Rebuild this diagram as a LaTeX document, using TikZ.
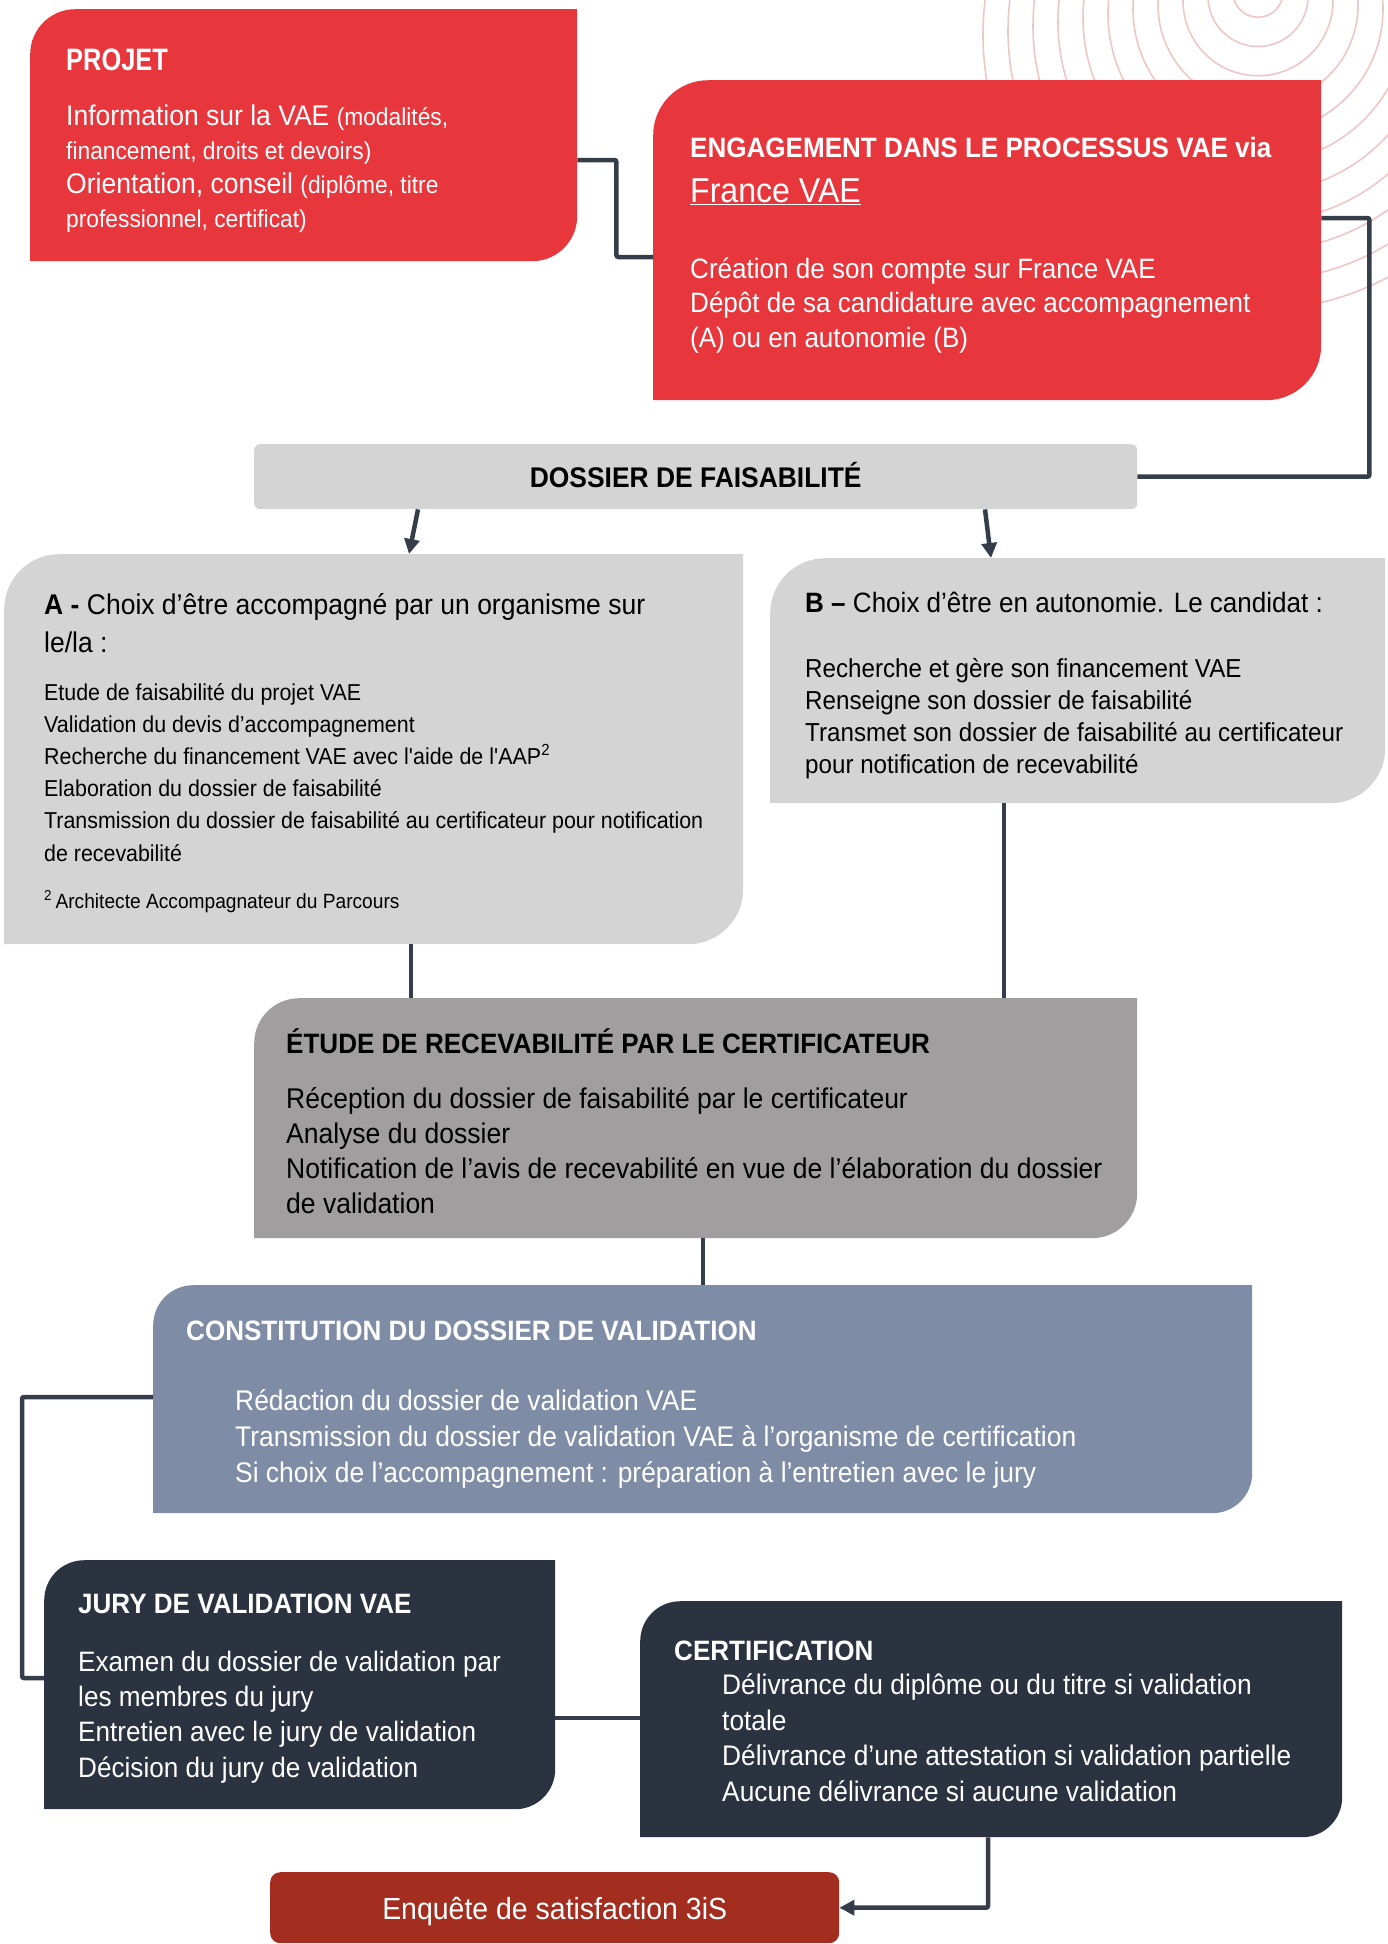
\documentclass[tikz,border=0pt]{standalone}
\usepackage{fontspec}
\setmainfont{Liberation Sans}[FakeStretch=0.93]
\newfontfamily\headfont{Liberation Sans}[FakeStretch=0.93]
\newfontfamily\narrowfont{Liberation Sans}[FakeStretch=0.82]
\usetikzlibrary{arrows.meta,positioning}
\definecolor{vaered}{HTML}{E8363D}
\definecolor{lightgrey}{HTML}{D4D4D4}
\definecolor{midgrey}{HTML}{A19E9F}
\definecolor{slate}{HTML}{7F8CA5}
\definecolor{navy}{HTML}{2B3240}
\definecolor{brick}{HTML}{A32D1F}
\definecolor{linkcol}{HTML}{353D4B}
\definecolor{ringcol}{HTML}{EFC6C6}
\newcommand\sm[1]{{\fontsize{24.5}{34}\selectfont #1}}

\begin{document}
\begin{tikzpicture}[x=1pt,y=1pt,>={Triangle[length=15pt,width=15pt]},
	link/.style={draw=linkcol,line width=4.5pt,rounded corners=2pt},
	ring/.style={draw=ringcol,line width=1.6pt},
	leaf/.style 2 args={rectangle,inner sep=0pt,anchor=north west,
		path picture={\fill[#1] (path picture bounding box.south west)
			-- ([yshift=-#2]path picture bounding box.north west)
			arc[start angle=180,end angle=90,radius=#2]
			-- (path picture bounding box.north east)
			-- ([yshift=#2]path picture bounding box.south east)
			arc[start angle=0,end angle=-90,radius=#2] -- cycle;}},
	txt/.style={anchor=base west,align=left,inner sep=0pt},
	head/.style={txt,font=\headfont\bfseries\fontsize{28}{34}\selectfont}]
	\useasboundingbox (0,0) rectangle (1388,-1944);
	\begin{scope}
		\clip (0,0) rectangle (1388,-1944);
		\foreach \r in {25,50,...,275}
			\draw[ring] (1258,{12-0.17*\r}) circle[radius=\r];
	\end{scope}
	
	\node[leaf={vaered}{45pt},minimum width=547pt,minimum height=252pt] (projet) at (30,-9) {};
	\node[leaf={vaered}{55pt},minimum width=668pt,minimum height=320pt] (engage) at (653,-80) {};
	\node[rectangle,rounded corners=6pt,fill=lightgrey,anchor=north west,minimum width=883pt,minimum height=65pt] (dossier) at (254,-444) {};
	\node[leaf={lightgrey}{55pt},minimum width=739pt,minimum height=390pt] (choixA) at (4,-554) {};
	\node[leaf={lightgrey}{55pt},minimum width=615pt,minimum height=245pt] (choixB) at (770,-558) {};
	\node[leaf={midgrey}{45pt},minimum width=883pt,minimum height=240pt] (etude) at (254,-998) {};
	\node[leaf={slate}{40pt},minimum width=1099pt,minimum height=228pt] (constit) at (153,-1285) {};
	\node[leaf={navy}{40pt},minimum width=511pt,minimum height=249pt] (jury) at (44,-1560) {};
	\node[leaf={navy}{40pt},minimum width=702pt,minimum height=236pt] (certif) at (640,-1601) {};
	\node[rectangle,rounded corners=10pt,fill=brick,anchor=north west,minimum width=569pt,minimum height=71pt] (enquete) at (270,-1872) {};
	
	\node[head,text=white,font=\narrowfont\bfseries\fontsize{31}{36}\selectfont] (projet-title) at ([shift={(36,-61)}]projet.north west) {PROJET};
	\node[txt,text=white,font=\fontsize{28.5}{34}\selectfont] (projet-text) at ([shift={(36,-218)}]projet.north west)
		{Information sur la VAE \sm{(modalités,}\\\sm{financement, droits et devoirs)}\\Orientation, conseil \sm{(diplôme, titre}\\\sm{professionnel, certificat)}};
	
	\node[head,text=white] (engage-title) at ([shift={(37,-77)}]engage.north west) {ENGAGEMENT DANS LE PROCESSUS VAE via};
	\node[txt,text=white,font=\fontsize{34.5}{40}\selectfont] (engage-link) at ([shift={(37,-122)}]engage.north west) {\underline{France VAE}};
	\node[txt,text=white,font=\fontsize{28}{34.5}\selectfont] (engage-text) at ([shift={(37,-267)}]engage.north west)
		{Création de son compte sur France VAE\\Dépôt de sa candidature avec accompagnement\\(A) ou en autonomie (B)};
	
	\node[head,anchor=base,font=\headfont\bfseries\fontsize{28.4}{34}\selectfont] (dossier-title) at ([yshift=-11pt]dossier.center) {DOSSIER DE FAISABILITÉ};
	
	\node[txt,font=\fontsize{28.5}{38}\selectfont] (choixA-title) at ([shift={(40,-98)}]choixA.north west)
		{\textbf{A -} Choix d’être accompagné par un organisme sur\\le/la :};
	\node[txt,font=\fontsize{23}{32.2}\selectfont] (choixA-text) at ([shift={(40,-307)}]choixA.north west)
		{Etude de faisabilité du projet VAE\\Validation du devis d’accompagnement\\Recherche du financement VAE avec l\textquotesingle aide de l\textquotesingle AAP\textsuperscript{2}\\Elaboration du dossier de faisabilité\\Transmission du dossier de faisabilité au certificateur pour notification\\de recevabilité};
	\node[txt,font=\fontsize{20.6}{24}\selectfont] (choixA-note) at ([shift={(40,-354)}]choixA.north west)
		{\textsuperscript{2}\,Architecte Accompagnateur du Parcours};
	
	\node[txt,font=\fontsize{28}{32}\selectfont] (choixB-title) at ([shift={(35,-54)}]choixB.north west)
		{\textbf{B –} Choix d’être en autonomie. Le candidat :};
	\node[txt,font=\fontsize{26}{32}\selectfont] (choixB-text) at ([shift={(35,-215)}]choixB.north west)
		{Recherche et gère son financement VAE\\Renseigne son dossier de faisabilité\\Transmet son dossier de faisabilité au certificateur\\pour notification de recevabilité};
	
	\node[head] (etude-title) at ([shift={(32,-55)}]etude.north west) {ÉTUDE DE RECEVABILITÉ PAR LE CERTIFICATEUR};
	\node[txt,font=\fontsize{28.5}{35}\selectfont] (etude-text) at ([shift={(32,-215)}]etude.north west)
		{Réception du dossier de faisabilité par le certificateur\\Analyse du dossier\\Notification de l’avis de recevabilité en vue de l’élaboration du dossier\\de validation};
	
	\node[head,text=white] (constit-title) at ([shift={(33,-55)}]constit.north west) {CONSTITUTION DU DOSSIER DE VALIDATION};
	\node[txt,text=white,font=\fontsize{28.4}{36}\selectfont] (constit-text) at ([shift={(82,-197)}]constit.north west)
		{Rédaction du dossier de validation VAE\\Transmission du dossier de validation VAE à l’organisme de certification\\Si choix de l’accompagnement : préparation à l’entretien avec le jury};
	
	\node[head,text=white] (jury-title) at ([shift={(34,-53)}]jury.north west) {JURY DE VALIDATION VAE};
	\node[txt,text=white,font=\fontsize{28.1}{35.3}\selectfont] (jury-text) at ([shift={(34,-217)}]jury.north west)
		{Examen du dossier de validation par\\les membres du jury\\Entretien avec le jury de validation\\Décision du jury de validation};
	
	\node[head,text=white] (certif-title) at ([shift={(34,-59)}]certif.north west) {CERTIFICATION};
	\node[txt,text=white,font=\fontsize{28.3}{35.5}\selectfont] (certif-text) at ([shift={(82,-200)}]certif.north west)
		{Délivrance du diplôme ou du titre si validation\\totale\\Délivrance d’une attestation si validation partielle\\Aucune délivrance si aucune validation};
	
	\node[txt,anchor=base,text=white,font=\fontsize{30.6}{36}\selectfont] (enquete-text) at ([yshift=-12pt]enquete.center) {Enquête de satisfaction 3iS};
	
	\draw[link] ([yshift=-151pt]projet.north east) -- ++(39,0) |- ([yshift=-177pt]engage.north west);
	\draw[link] ([yshift=-138pt]engage.north east) -- ++(48,0) |- (dossier.east);
	\draw[link,->] ([xshift=164pt]dossier.south west) -- ([xshift=405pt]choixA.north west);
	\draw[link,->] ([xshift=731pt]dossier.south west) -- ([xshift=221pt]choixB.north west);
	\draw[link] ([xshift=407pt]choixA.south west) -- ([xshift=157pt]etude.north west);
	\draw[link] ([xshift=234pt]choixB.south west) -- ([xshift=750pt]etude.north west);
	\draw[link] ([xshift=449pt]etude.south west) -- ([xshift=550pt]constit.north west);
	\draw[link] ([yshift=-112pt]constit.north west) -- ++(-131,0) |- ([yshift=-118pt]jury.north west);
	\draw[link] ([yshift=-158pt]jury.north east) -- ([yshift=-117pt]certif.north west);
	\draw[link,->] ([xshift=348pt]certif.south west) |- (enquete.east);
\end{tikzpicture}
\end{document}
